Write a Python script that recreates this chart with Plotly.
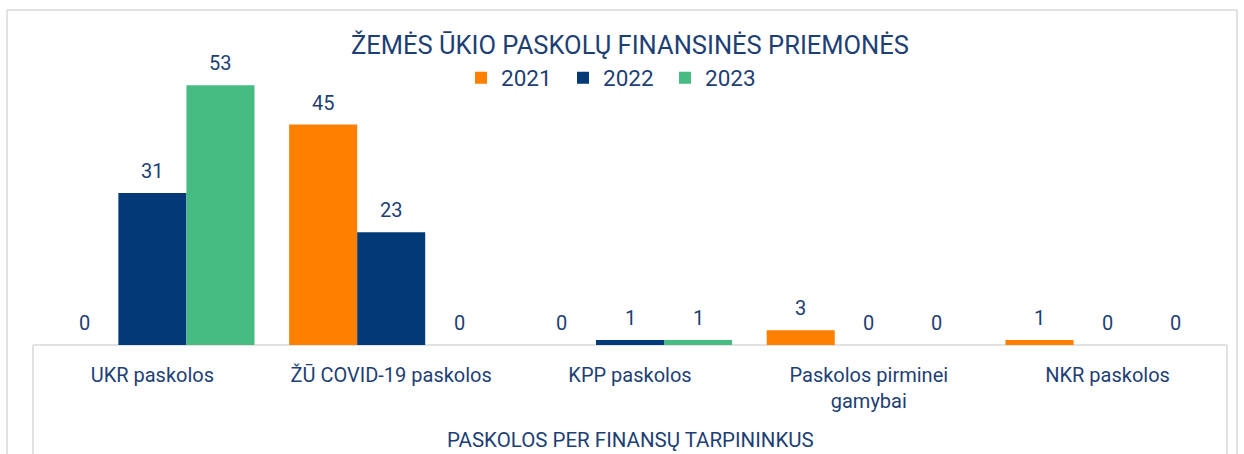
import plotly.graph_objects as go

categories = ["UKR paskolos", "ŽŪ COVID-19 paskolos", "KPP paskolos",
              "Paskolos pirminei<br>gamybai", "NKR paskolos"]
group_label = "PASKOLOS PER FINANSŲ TARPININKUS"
years = ["2021", "2022", "2023"]
values_2021 = [0, 45, 0, 3, 1]
values_2022 = [31, 23, 1, 0, 0]
values_2023 = [53, 0, 1, 0, 0]
series_colors = ["#FF7F00", "#023A78", "#46BC83"]
title_text = "ŽEMĖS ŪKIO PASKOLŲ FINANSINĖS PRIEMONĖS"

TXT = "#1E3F74"
FONT = "Roboto"
GRID = "#D9D9D9"

W, H = 1244, 454
L, R, T, B = 33, 17, 51, 109
plot_h = H - T - B
plot_w = W - L - R
BARGAP = 0.145
series = [values_2021, values_2022, values_2023]

fig = go.Figure()
for name, vals, col in zip(years, series, series_colors):
    fig.add_trace(go.Bar(
        name=name, x=categories, y=vals, marker=dict(color=col, line=dict(width=0)),
        cliponaxis=False, hoverinfo="x+y+name",
    ))

# data labels placed above each bar through the axis scales
cat_w = plot_w / len(categories)
bar_w = cat_w * (1 - BARGAP) / len(series)
annotations = []
for i, vals in enumerate(series):
    shift = (i - (len(series) - 1) / 2) * bar_w
    for c, v in zip(categories, vals):
        annotations.append(dict(x=c, y=v, xref="x", yref="y", text=str(v), showarrow=False,
                                xshift=shift, yshift=22, xanchor="center", yanchor="middle",
                                font=dict(size=20, color=TXT, family=FONT)))

def px_x(px):
    return (px - L) / plot_w

def px_y(py):
    return (H - B - py) / plot_h

annotations.append(dict(text=group_label, xref="paper", yref="paper", x=0.5, y=px_y(440),
                        xanchor="center", yanchor="middle", showarrow=False,
                        font=dict(size=20.5, color=TXT, family=FONT)))

lw = 1.5
shapes = [
    dict(type="line", xref="paper", yref="paper", x0=px_x(7), x1=px_x(1237), y0=px_y(10), y1=px_y(10),
         line=dict(color=GRID, width=lw)),
    dict(type="line", xref="paper", yref="paper", x0=px_x(7), x1=px_x(7), y0=px_y(10), y1=px_y(470),
         line=dict(color=GRID, width=lw)),
    dict(type="line", xref="paper", yref="paper", x0=px_x(1237), x1=px_x(1237), y0=px_y(10), y1=px_y(470),
         line=dict(color=GRID, width=lw)),
    dict(type="line", xref="paper", yref="paper", x0=0, x1=1, y0=0, y1=0,
         line=dict(color=GRID, width=lw), layer="below"),
    dict(type="line", xref="paper", yref="paper", x0=0, x1=0, y0=0, y1=px_y(470),
         line=dict(color=GRID, width=lw)),
    dict(type="line", xref="paper", yref="paper", x0=1, x1=1, y0=0, y1=px_y(470),
         line=dict(color=GRID, width=lw)),
]

fig.update_layout(
    width=W, height=H,
    margin=dict(l=L, r=R, t=T, b=B, autoexpand=False),
    paper_bgcolor="white", plot_bgcolor="white",
    font=dict(family=FONT, color=TXT, size=18),
    barmode="group", bargap=BARGAP, bargroupgap=0,
    title=dict(text=title_text, x=0.5, xref="paper", xanchor="center",
               y=1 - 45 / H, yref="container", yanchor="middle",
               font=dict(size=25.5, color=TXT, family=FONT)),
    legend=dict(orientation="h", x=px_x(614), xanchor="center", y=px_y(78), yanchor="middle",
                font=dict(size=22.5, color=TXT, family=FONT), itemwidth=30,
                entrywidth=57, entrywidthmode="pixels",
                bgcolor="rgba(0,0,0,0)", traceorder="normal"),
    xaxis=dict(showgrid=False, showline=False, ticks="", ticklabelstandoff=16,
               tickfont=dict(size=20, color=TXT, family=FONT), fixedrange=True),
    yaxis=dict(range=[0, 60], visible=False, fixedrange=True),
    shapes=shapes,
    annotations=annotations,
)

fig.write_html("out.html", config={"displayModeBar": False},
               post_script="document.body.style.margin='0';document.body.style.overflow='hidden';")
